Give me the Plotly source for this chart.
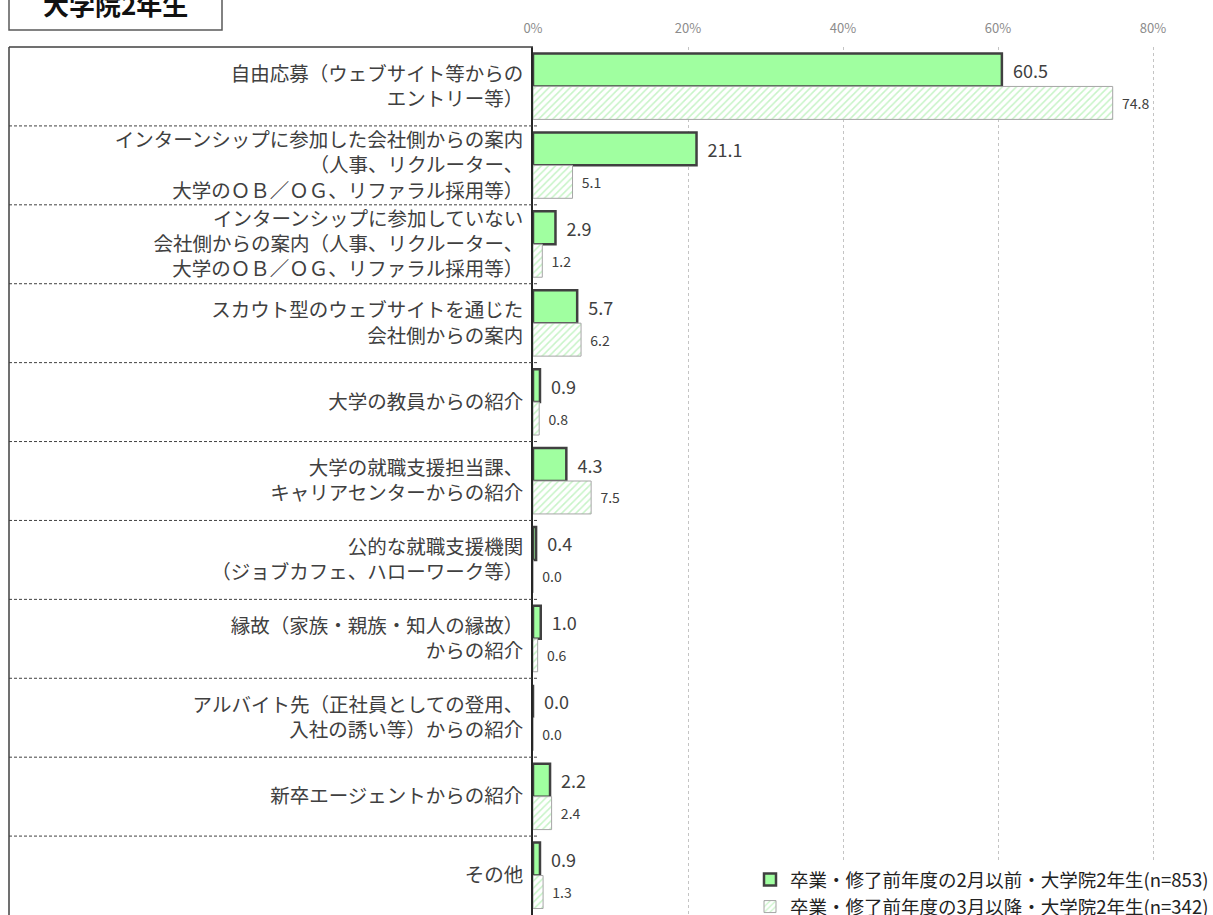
import plotly.graph_objects as go

# categories (top to bottom)
categories = [
    "自由応募（ウェブサイト等からの<br>エントリー等）",
    "インターンシップに参加した会社側からの案内<br>（人事、リクルーター、<br>大学のＯＢ／ＯＧ、リファラル採用等）",
    "インターンシップに参加していない<br>会社側からの案内（人事、リクルーター、<br>大学のＯＢ／ＯＧ、リファラル採用等）",
    "スカウト型のウェブサイトを通じた<br>会社側からの案内",
    "大学の教員からの紹介",
    "大学の就職支援担当課、<br>キャリアセンターからの紹介",
    "公的な就職支援機関<br>（ジョブカフェ、ハローワーク等）",
    "縁故（家族・親族・知人の縁故）<br>からの紹介",
    "アルバイト先（正社員としての登用、<br>入社の誘い等）からの紹介",
    "新卒エージェントからの紹介",
    "その他",
]
series1_name = "卒業・修了前年度の2月以前・大学院2年生(n=853)"
series1 = [60.5, 21.1, 2.9, 5.7, 0.9, 4.3, 0.4, 1.0, 0.0, 2.2, 0.9]
series2_name = "卒業・修了前年度の3月以降・大学院2年生(n=342)"
series2 = [74.8, 5.1, 1.2, 6.2, 0.8, 7.5, 0.0, 0.6, 0.0, 2.4, 1.3]
x_ticks = [0, 20, 40, 60, 80]
title_text = "<b>大学院2年生</b>"

W, H = 1213, 915
L, R, T, B = 533, 0, 47, 0
FONT = "Noto Sans CJK JP"


def px_x(p):
    return (p - L) / (W - L - R)


def px_y(p):
    return 1 - (p - T) / (H - T - B)


idx = list(range(len(categories)))

fig = go.Figure()
fig.add_trace(go.Bar(
    name=series1_name, y=idx, x=series1, orientation="h",
    marker=dict(color="#a0ffa0", line=dict(color="#404040", width=2.5)),
    texttemplate="\u00a0\u00a0%{x:.1f}", textposition="outside",
    textfont=dict(size=18, color="#404040", family=FONT),
    cliponaxis=False,
))
fig.add_trace(go.Bar(
    name=series2_name, y=idx, x=series2, orientation="h",
    marker=dict(color="white", line=dict(color="#a6a6a6", width=1),
                pattern=dict(shape="/", fgcolor="#8fe88f", bgcolor="white", size=5, solidity=0.3)),
    texttemplate="\u00a0\u00a0%{x:.1f}", textposition="outside",
    textfont=dict(size=14, color="#404040", family=FONT),
    cliponaxis=False,
))

shapes = []
# dashed separators in the label table
for i in range(1, len(categories)):
    shapes.append(dict(type="line", xref="paper", yref="y", x0=px_x(9), x1=px_x(538),
                       y0=i - 0.5, y1=i - 0.5, line=dict(color="#404040", width=1, dash="3px,2px")))
# table box
shapes.append(dict(type="line", xref="paper", yref="paper", x0=px_x(9), x1=px_x(9),
                   y0=px_y(47), y1=px_y(930), line=dict(color="#404040", width=1.5)))
shapes.append(dict(type="line", xref="paper", yref="paper", x0=px_x(9), x1=px_x(533),
                   y0=px_y(47), y1=px_y(47), line=dict(color="#404040", width=1.5)))
# title box
shapes.append(dict(type="rect", xref="paper", yref="paper", x0=px_x(9), x1=px_x(222),
                   y0=px_y(30), y1=px_y(-10), line=dict(color="#595959", width=1.5),
                   fillcolor="white"))

fig.add_annotation(text=title_text, xref="paper", yref="paper", x=px_x(115), y=px_y(3),
                   showarrow=False, font=dict(size=26, color="#111111", family=FONT),
                   xanchor="center", yanchor="middle")

fig.update_layout(
    width=W, height=H,
    margin=dict(l=L, r=R, t=T, b=B, autoexpand=False),
    plot_bgcolor="white", paper_bgcolor="white",
    barmode="group", bargap=0.165, bargroupgap=0,
    font=dict(family=FONT, color="#404040"),
    shapes=shapes,
    showlegend=True,
    legend=dict(x=px_x(750), y=px_y(861), xanchor="left", yanchor="top",
                bgcolor="white", font=dict(size=18.5, color="#222222", family=FONT),
                tracegroupgap=0, traceorder="normal"),
)
fig.update_xaxes(
    side="top", range=[0, (W - L - R) / 7.75], tickvals=x_ticks,
    ticktext=[f"{v}%" for v in x_ticks],
    tickfont=dict(size=13, color="#8c8c8c", family=FONT),
    showgrid=True, gridcolor="#c4c4c4", griddash="dot", gridwidth=1,
    zeroline=False, showline=False, ticks="", ticklabelstandoff=10,
)
fig.update_yaxes(
    tickvals=idx, ticktext=categories, autorange=False, range=[len(categories) - 0.5, -0.5],
    tickfont=dict(size=19.5, color="#404040", family=FONT),
    showline=True, linecolor="#262626", linewidth=1.5,
    showgrid=False, zeroline=False, ticks="", ticklabelstandoff=4,
)

fig.write_html("out.html", config={"displayModeBar": False},
               post_script="document.body.style.margin='0';")
